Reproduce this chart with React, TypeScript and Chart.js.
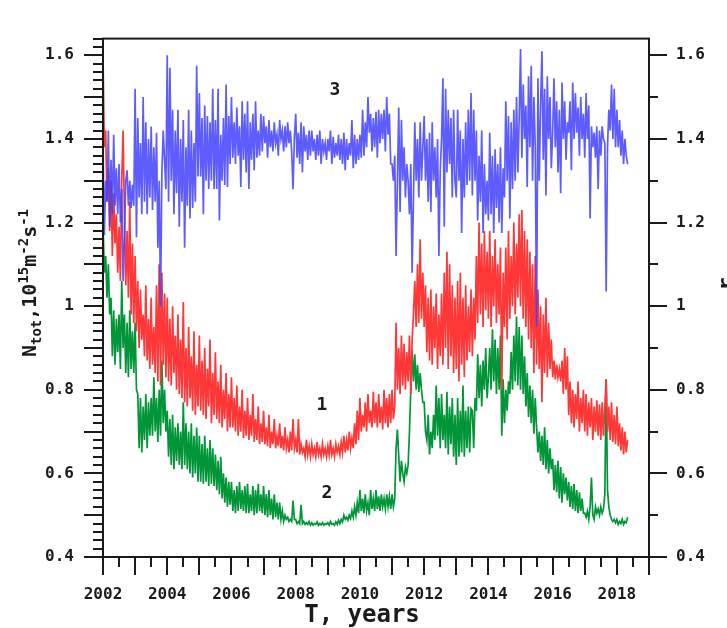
import React, { useEffect, useRef } from "react";
import { Chart, registerables } from "chart.js";

Chart.register(...registerables);

// ---- data (24 samples per year starting at 2002.0; one row = half a year) ----
const START_YEAR = 2002;
const SAMPLES_PER_YEAR = 24;

// curve 1 (red), left axis N_tot
const series1 = [
  1.60, 1.38, 1.42, 1.25, 1.33, 1.18, 1.30, 1.12, 1.27, 1.15, 1.22, 1.08,
  1.19, 1.06, 1.30, 1.42, 1.22, 1.05, 1.18, 1.02, 1.25, 0.98, 1.15, 0.96,
  1.12, 0.94, 1.06, 0.90, 1.04, 0.92, 0.98, 0.88, 1.05, 0.87, 0.97, 0.85,
  1.02, 0.86, 0.95, 0.84, 1.05, 0.82, 1.10, 0.81, 1.08, 0.86, 1.03, 0.83,
  1.02, 0.82, 0.97, 0.81, 1.00, 0.84, 0.93, 0.80, 0.98, 0.79, 0.92, 0.78,
  1.01, 0.77, 0.90, 0.76, 0.95, 0.78, 0.88, 0.75, 0.94, 0.74, 0.86, 0.76,
  0.93, 0.75, 0.87, 0.74, 0.90, 0.73, 0.85, 0.76, 0.92, 0.72, 0.84, 0.74,
  0.89, 0.73, 0.82, 0.72, 0.86, 0.71, 0.80, 0.73, 0.84, 0.70, 0.79, 0.71,
  0.83, 0.71, 0.78, 0.70, 0.81, 0.69, 0.76, 0.70, 0.80, 0.685, 0.75, 0.69,
  0.78, 0.68, 0.74, 0.69, 0.79, 0.675, 0.73, 0.68, 0.76, 0.67, 0.72, 0.675,
  0.75, 0.67, 0.71, 0.665, 0.74, 0.66, 0.70, 0.67, 0.73, 0.66, 0.69, 0.665,
  0.72, 0.66, 0.69, 0.655, 0.71, 0.66, 0.68, 0.65, 0.70, 0.655, 0.73, 0.66,
  0.68, 0.65, 0.73, 0.645, 0.67, 0.65, 0.66, 0.64, 0.68, 0.645, 0.665, 0.64,
  0.67, 0.645, 0.66, 0.64, 0.675, 0.645, 0.66, 0.64, 0.67, 0.645, 0.66, 0.64,
  0.665, 0.645, 0.68, 0.645, 0.66, 0.64, 0.67, 0.65, 0.665, 0.645, 0.675, 0.65,
  0.69, 0.65, 0.68, 0.655, 0.70, 0.66, 0.685, 0.66, 0.72, 0.67, 0.75, 0.68,
  0.78, 0.70, 0.74, 0.71, 0.77, 0.70, 0.79, 0.72, 0.75, 0.71, 0.795, 0.72,
  0.77, 0.71, 0.79, 0.72, 0.76, 0.705, 0.80, 0.72, 0.78, 0.71, 0.79, 0.72,
  0.80, 0.73, 0.76, 0.96, 0.80, 0.90, 0.79, 0.93, 0.81, 0.91, 0.80, 0.89,
  0.82, 0.93, 0.79, 0.92, 0.98, 1.06, 0.95, 1.10, 0.96, 1.16, 0.97, 1.08,
  0.95, 1.05, 0.89, 1.02, 0.87, 1.04, 0.86, 1.00, 0.90, 1.03, 0.85, 0.98,
  0.88, 1.03, 0.86, 1.08, 0.90, 1.13, 0.85, 1.10, 0.88, 1.05, 0.84, 1.02,
  0.85, 1.06, 0.82, 1.08, 0.86, 1.02, 0.83, 1.05, 0.87, 1.00, 0.89, 1.04,
  0.88, 1.02, 0.92, 1.12, 0.96, 1.20, 0.98, 1.15, 0.95, 1.18, 0.99, 1.13,
  0.97, 1.18, 0.95, 1.12, 1.00, 1.16, 0.96, 1.10, 0.98, 1.14, 0.80, 1.08,
  0.95, 1.14, 0.92, 1.18, 0.97, 1.12, 1.00, 1.20, 0.98, 1.15, 1.02, 1.22,
  1.00, 1.23, 0.97, 1.18, 0.95, 1.16, 0.92, 1.13, 0.90, 1.10, 0.84, 1.12,
  0.86, 1.04, 0.85, 1.00, 0.77, 0.98, 0.84, 1.02, 0.83, 0.96, 0.85, 0.92,
  0.83, 0.87, 0.825, 0.86, 0.83, 0.85, 0.82, 0.87, 0.79, 0.90, 0.80, 0.88,
  0.74, 0.82, 0.72, 0.80, 0.71, 0.79, 0.73, 0.82, 0.70, 0.78, 0.72, 0.80,
  0.70, 0.79, 0.69, 0.77, 0.71, 0.78, 0.68, 0.76, 0.70, 0.775, 0.69, 0.765,
  0.68, 0.77, 0.69, 0.76, 0.825, 0.70, 0.76, 0.68, 0.77, 0.675, 0.74, 0.67,
  0.76, 0.665, 0.72, 0.655, 0.71, 0.645, 0.70, 0.65, 0.68,
];

// curve 2 (green), left axis N_tot
const series2 = [
  1.20, 1.08, 1.12, 1.02, 1.10, 0.98, 1.02, 0.88, 0.99, 0.86, 0.97, 0.89,
  0.98, 0.85, 1.06, 0.90, 0.98, 0.84, 0.96, 0.83, 0.99, 0.85, 0.94, 0.84,
  0.96, 0.80, 0.79, 0.66, 0.78, 0.65, 0.76, 0.68, 0.79, 0.66, 0.77, 0.69,
  0.78, 0.69, 0.83, 0.70, 0.78, 0.675, 0.80, 0.69, 0.87, 0.72, 0.80, 0.70,
  0.75, 0.64, 0.73, 0.62, 0.74, 0.61, 0.71, 0.63, 0.72, 0.62, 0.70, 0.61,
  0.77, 0.62, 0.72, 0.61, 0.70, 0.60, 0.72, 0.59, 0.69, 0.60, 0.71, 0.58,
  0.69, 0.58, 0.67, 0.575, 0.69, 0.58, 0.66, 0.57, 0.68, 0.575, 0.66, 0.57,
  0.645, 0.56, 0.63, 0.55, 0.64, 0.54, 0.60, 0.53, 0.59, 0.52, 0.58, 0.525,
  0.58, 0.51, 0.56, 0.505, 0.57, 0.51, 0.58, 0.515, 0.56, 0.51, 0.57, 0.505,
  0.575, 0.505, 0.55, 0.51, 0.57, 0.50, 0.56, 0.505, 0.575, 0.51, 0.55, 0.505,
  0.57, 0.50, 0.55, 0.495, 0.56, 0.50, 0.54, 0.49, 0.55, 0.495, 0.53, 0.49,
  0.53, 0.49, 0.51, 0.485, 0.50, 0.49, 0.495, 0.485, 0.49, 0.485, 0.535, 0.49,
  0.49, 0.48, 0.485, 0.48, 0.525, 0.48, 0.485, 0.478, 0.482, 0.478, 0.485, 0.476,
  0.482, 0.476, 0.48, 0.478, 0.484, 0.476, 0.48, 0.477, 0.482, 0.476, 0.48, 0.478,
  0.482, 0.476, 0.485, 0.478, 0.48, 0.476, 0.484, 0.478, 0.488, 0.48, 0.49, 0.484,
  0.50, 0.49, 0.495, 0.488, 0.50, 0.492, 0.51, 0.495, 0.52, 0.50, 0.53, 0.505,
  0.56, 0.51, 0.54, 0.505, 0.55, 0.51, 0.53, 0.50, 0.56, 0.515, 0.54, 0.51,
  0.56, 0.515, 0.545, 0.51, 0.55, 0.52, 0.54, 0.515, 0.55, 0.52, 0.545, 0.515,
  0.55, 0.52, 0.54, 0.66, 0.705, 0.64, 0.58, 0.63, 0.60, 0.58, 0.615, 0.60,
  0.62, 0.70, 0.80, 0.895, 0.82, 0.885, 0.80, 0.86, 0.795, 0.84, 0.80, 0.77,
  0.77, 0.70, 0.68, 0.74, 0.645, 0.70, 0.66, 0.74, 0.68, 0.81, 0.69, 0.78,
  0.66, 0.79, 0.68, 0.74, 0.66, 0.795, 0.645, 0.76, 0.67, 0.78, 0.64, 0.74,
  0.62, 0.78, 0.64, 0.75, 0.65, 0.81, 0.64, 0.75, 0.66, 0.76, 0.65, 0.755,
  0.75, 0.66, 0.78, 0.75, 0.885, 0.78, 0.86, 0.76, 0.87, 0.80, 0.90, 0.78,
  0.83, 0.90, 0.80, 0.945, 0.82, 0.92, 0.79, 0.90, 0.80, 0.93, 0.69, 0.825,
  0.72, 0.80, 0.75, 0.82, 0.79, 0.89, 0.80, 0.93, 0.82, 0.975, 0.81, 0.95,
  0.80, 0.93, 0.79, 0.88, 0.76, 0.84, 0.735, 0.81, 0.72, 0.80, 0.695, 0.78,
  0.71, 0.65, 0.70, 0.63, 0.69, 0.62, 0.71, 0.61, 0.68, 0.60, 0.66, 0.61,
  0.635, 0.56, 0.62, 0.555, 0.63, 0.54, 0.615, 0.53, 0.60, 0.55, 0.59, 0.535,
  0.58, 0.52, 0.57, 0.515, 0.575, 0.51, 0.56, 0.505, 0.555, 0.51, 0.54, 0.505,
  0.505, 0.495, 0.51, 0.49, 0.52, 0.59, 0.50, 0.49, 0.52, 0.505, 0.515, 0.50,
  0.52, 0.505, 0.515, 0.55, 0.825, 0.56, 0.52, 0.50, 0.49, 0.485, 0.49, 0.482,
  0.49, 0.478, 0.485, 0.48, 0.49, 0.478, 0.485, 0.482, 0.495,
];

// curve 3 (blue), right axis r
const series3 = [
  1.39, 1.17, 1.30, 1.25, 1.42, 1.19, 1.35, 1.22, 1.41, 1.24, 1.33, 1.22,
  1.34, 1.20, 1.28, 1.06, 1.16, 1.30, 1.325, 1.24, 1.30, 1.235, 1.29, 1.24,
  1.52, 1.165, 1.45, 1.26, 1.39, 1.22, 1.50, 1.25, 1.44, 1.22, 1.40, 1.26,
  1.43, 1.23, 1.38, 1.25, 1.415, 1.14, 1.30, 1.00, 1.32, 1.42, 1.35, 1.28,
  1.60, 1.25, 1.57, 1.30, 1.47, 1.22, 1.42, 1.27, 1.47, 1.19, 1.40, 1.25,
  1.445, 1.14, 1.38, 1.24, 1.47, 1.21, 1.42, 1.235, 1.39, 1.25, 1.575, 1.31,
  1.51, 1.31, 1.45, 1.22, 1.48, 1.30, 1.455, 1.28, 1.44, 1.30, 1.52, 1.28,
  1.445, 1.28, 1.52, 1.205, 1.41, 1.30, 1.45, 1.29, 1.53, 1.285, 1.455, 1.34,
  1.50, 1.355, 1.44, 1.34, 1.475, 1.36, 1.43, 1.285, 1.49, 1.35, 1.46, 1.32,
  1.49, 1.28, 1.44, 1.35, 1.46, 1.325, 1.49, 1.355, 1.42, 1.36, 1.46, 1.37,
  1.455, 1.39, 1.43, 1.355, 1.445, 1.38, 1.42, 1.37, 1.44, 1.39, 1.41, 1.36,
  1.445, 1.40, 1.42, 1.37, 1.43, 1.38, 1.44, 1.39, 1.42, 1.37, 1.28, 1.40,
  1.46, 1.355, 1.415, 1.34, 1.44, 1.32, 1.43, 1.37, 1.41, 1.35, 1.42, 1.36,
  1.42, 1.37, 1.40, 1.35, 1.41, 1.36, 1.42, 1.34, 1.40, 1.37, 1.39, 1.35,
  1.40, 1.37, 1.42, 1.34, 1.405, 1.355, 1.39, 1.36, 1.41, 1.35, 1.40, 1.34,
  1.415, 1.325, 1.40, 1.35, 1.39, 1.36, 1.445, 1.33, 1.41, 1.34, 1.40, 1.35,
  1.41, 1.355, 1.47, 1.36, 1.44, 1.38, 1.50, 1.415, 1.46, 1.37, 1.45, 1.38,
  1.465, 1.355, 1.47, 1.39, 1.46, 1.40, 1.47, 1.37, 1.50, 1.41, 1.46, 1.34,
  1.34, 1.30, 1.36, 1.12, 1.30, 1.475, 1.225, 1.445, 1.30, 1.38, 1.26, 1.34,
  1.30, 1.22, 1.34, 1.08, 1.26, 1.44, 1.30, 1.40, 1.26, 1.44, 1.30, 1.38,
  1.455, 1.30, 1.40, 1.25, 1.415, 1.225, 1.44, 1.30, 1.38, 1.26, 1.40, 1.12,
  1.325, 1.40, 1.545, 1.19, 1.52, 1.32, 1.47, 1.34, 1.45, 1.26, 1.47, 1.30,
  1.26, 1.47, 1.30, 1.42, 1.175, 1.40, 1.26, 1.44, 1.29, 1.47, 1.30, 1.51,
  1.265, 1.47, 1.30, 1.42, 1.205, 1.36, 1.25, 1.42, 1.175, 1.34, 1.22, 1.30,
  1.205, 1.415, 1.22, 1.36, 1.175, 1.375, 1.235, 1.34, 1.20, 1.38, 1.175, 1.33,
  1.26, 1.49, 1.30, 1.455, 1.21, 1.44, 1.28, 1.47, 1.30, 1.50, 1.32, 1.45,
  1.615, 1.355, 1.53, 1.40, 1.48, 1.285, 1.55, 1.38, 1.575, 1.30, 1.50, 1.38,
  0.95, 1.545, 1.30, 1.48, 1.61, 1.35, 1.52, 1.265, 1.55, 1.40, 1.50, 1.33,
  1.415, 1.545, 1.38, 1.49, 1.32, 1.47, 1.27, 1.535, 1.40, 1.49, 1.35, 1.44,
  1.415, 1.49, 1.325, 1.535, 1.40, 1.51, 1.415, 1.475, 1.36, 1.50, 1.40, 1.46,
  1.355, 1.51, 1.40, 1.48, 1.21, 1.43, 1.38, 1.415, 1.355, 1.43, 1.28, 1.42,
  1.36, 1.43, 1.40, 1.39, 1.035, 1.38, 1.47, 1.42, 1.53, 1.40, 1.52, 1.38,
  1.47, 1.38, 1.445, 1.36, 1.42, 1.34, 1.40, 1.36, 1.34,
];

const xTickYears = [2002, 2004, 2006, 2008, 2010, 2012, 2014, 2016, 2018];
const yTickValues = [0.4, 0.6, 0.8, 1.0, 1.2, 1.4, 1.6];
const yTickLabels = ["0.4", "0.6", "0.8", "1", "1.2", "1.4", "1.6"];

const curveLabels = ["1", "2", "3"];
const curveLabelX = [2008.82, 2008.97, 2009.22];
const curveLabelY = [0.763, 0.552, 1.517];

const X_MIN = 2002;
const X_MAX = 2019;
const Y_MIN = 0.4;
const Y_MAX = 1.64;

const MONO = "'DejaVu Sans Mono', 'Liberation Mono', monospace";
const INK = "#1a1a1a";

const toPoints = (vals: number[]) =>
  vals.map((y, i) => ({ x: START_YEAR + i / SAMPLES_PER_YEAR, y }));

const decorPlugin = {
  id: "decor",
  afterDraw(chart: any) {
    const ctx: CanvasRenderingContext2D = chart.ctx;
    const { left, right, top, bottom } = chart.chartArea;
    const xs = chart.scales.x;
    const ys = chart.scales.y;
    const ys2 = chart.scales.y2;
    ctx.save();
    ctx.strokeStyle = INK;
    ctx.lineWidth = 2;
    ctx.strokeRect(left, top, right - left, bottom - top);

    ctx.beginPath();
    // left axis ticks: every 0.02, longer every 0.1
    for (let k = 20; k <= 82; k++) {
      const py = Math.round(ys.getPixelForValue(k / 50));
      const len = k % 5 === 0 ? 19 : 10;
      ctx.moveTo(left - len, py);
      ctx.lineTo(left, py);
    }
    // right axis ticks: every 0.1, longer every 0.2
    for (let k = 4; k <= 16; k++) {
      const py = Math.round(ys2.getPixelForValue(k / 10));
      const len = k % 2 === 0 ? 18 : 9;
      ctx.moveTo(right, py);
      ctx.lineTo(right + len, py);
    }
    // bottom ticks: every half year, longer each year
    for (let k = 0; k <= 34; k++) {
      const px = Math.round(xs.getPixelForValue(X_MIN + k / 2));
      const len = k % 2 === 0 ? 18 : 10;
      ctx.moveTo(px, bottom);
      ctx.lineTo(px, bottom + len);
    }
    ctx.stroke();

    // curve labels
    ctx.fillStyle = INK;
    ctx.font = `bold 18px ${MONO}`;
    ctx.textAlign = "center";
    ctx.textBaseline = "middle";
    curveLabels.forEach((t, i) => {
      ctx.fillText(
        t,
        xs.getPixelForValue(curveLabelX[i]),
        ys.getPixelForValue(curveLabelY[i])
      );
    });

    // bottom title
    ctx.font = `bold 24px ${MONO}`;
    ctx.textAlign = "center";
    ctx.textBaseline = "alphabetic";
    ctx.fillText("T, years", 362, 622);

    // left title (rotated) with sub/superscripts
    const parts: [string, number, number][] = [
      ["N", 20, 0],
      ["tot", 14, 5],
      [",10", 20, 0],
      ["15", 14, -8],
      ["m", 20, 0],
      ["-2", 14, -8],
      ["s", 20, 0],
      ["-1", 14, -8],
    ];
    ctx.save();
    ctx.translate(29, 283);
    ctx.rotate(-Math.PI / 2);
    ctx.textAlign = "left";
    ctx.textBaseline = "alphabetic";
    let total = 0;
    parts.forEach(([t, s]) => {
      ctx.font = `bold ${s}px ${MONO}`;
      total += ctx.measureText(t).width;
    });
    let cx = -total / 2;
    parts.forEach(([t, s, dy]) => {
      ctx.font = `bold ${s}px ${MONO}`;
      ctx.fillText(t, cx, 7 + dy);
      cx += ctx.measureText(t).width;
    });
    ctx.restore();

    // right title "r" (partly outside the canvas, as in the original)
    ctx.save();
    ctx.translate(725, 284);
    ctx.rotate(-Math.PI / 2);
    ctx.font = `bold 22px ${MONO}`;
    ctx.textAlign = "center";
    ctx.textBaseline = "alphabetic";
    ctx.fillText("r", 0, 8);
    ctx.restore();

    ctx.restore();
  },
};

export default function App() {
  const ref = useRef<HTMLCanvasElement | null>(null);

  useEffect(() => {
    if (!ref.current) return;
    const tickFont = { family: MONO, size: 16, weight: "bold" as const };
    const common = { borderWidth: 1.7, pointRadius: 0, tension: 0 };
    const chart = new Chart(ref.current, {
      type: "line",
      data: {
        datasets: [
          {
            label: "3",
            data: toPoints(series3),
            borderColor: "rgba(64,64,255,0.85)",
            yAxisID: "y2",
            order: 0,
            ...common,
          },
          {
            label: "1",
            data: toPoints(series1),
            borderColor: "rgb(255,55,55)",
            yAxisID: "y",
            order: 1,
            ...common,
          },
          {
            label: "2",
            data: toPoints(series2),
            borderColor: "rgb(0,150,55)",
            yAxisID: "y",
            order: 2,
            ...common,
          },
        ],
      },
      options: {
        animation: false,
        responsive: false,
        events: [],
        layout: { padding: { top: 11, left: 0, right: 0, bottom: 0 } },
        plugins: {
          legend: { display: false },
          tooltip: { enabled: false },
        },
        scales: {
          x: {
            type: "linear",
            position: "bottom",
            min: X_MIN,
            max: X_MAX,
            grid: { display: false, drawTicks: false },
            border: { display: false },
            afterBuildTicks: (s: any) => {
              s.ticks = xTickYears.map((v) => ({ value: v }));
            },
            afterFit: (s: any) => {
              s.height = 71;
            },
            ticks: {
              autoSkip: false,
              maxRotation: 0,
              minRotation: 0,
              padding: 28,
              color: INK,
              font: tickFont,
              callback: (_v: any, i: number) => String(xTickYears[i]),
            },
          },
          y: {
            type: "linear",
            position: "left",
            min: Y_MIN,
            max: Y_MAX,
            grid: { display: false, drawTicks: false },
            border: { display: false },
            afterBuildTicks: (s: any) => {
              s.ticks = yTickValues.map((v) => ({ value: v }));
            },
            afterFit: (s: any) => {
              s.width = 103;
            },
            ticks: {
              padding: 29,
              color: INK,
              font: tickFont,
              callback: (_v: any, i: number) => yTickLabels[i],
            },
          },
          y2: {
            type: "linear",
            position: "right",
            min: Y_MIN,
            max: Y_MAX,
            grid: { display: false, drawTicks: false },
            border: { display: false },
            afterBuildTicks: (s: any) => {
              s.ticks = yTickValues.map((v) => ({ value: v }));
            },
            afterFit: (s: any) => {
              s.width = 78;
            },
            ticks: {
              padding: 27,
              color: INK,
              font: tickFont,
              callback: (_v: any, i: number) => yTickLabels[i],
            },
          },
        },
      },
      plugins: [decorPlugin],
    });
    return () => chart.destroy();
  }, []);

  return (
    <div style={{ position: "absolute", left: 0, top: 0, width: 727, height: 628, background: "#fff" }}>
      <canvas ref={ref} width={727} height={628} style={{ display: "block" }} />
    </div>
  );
}
